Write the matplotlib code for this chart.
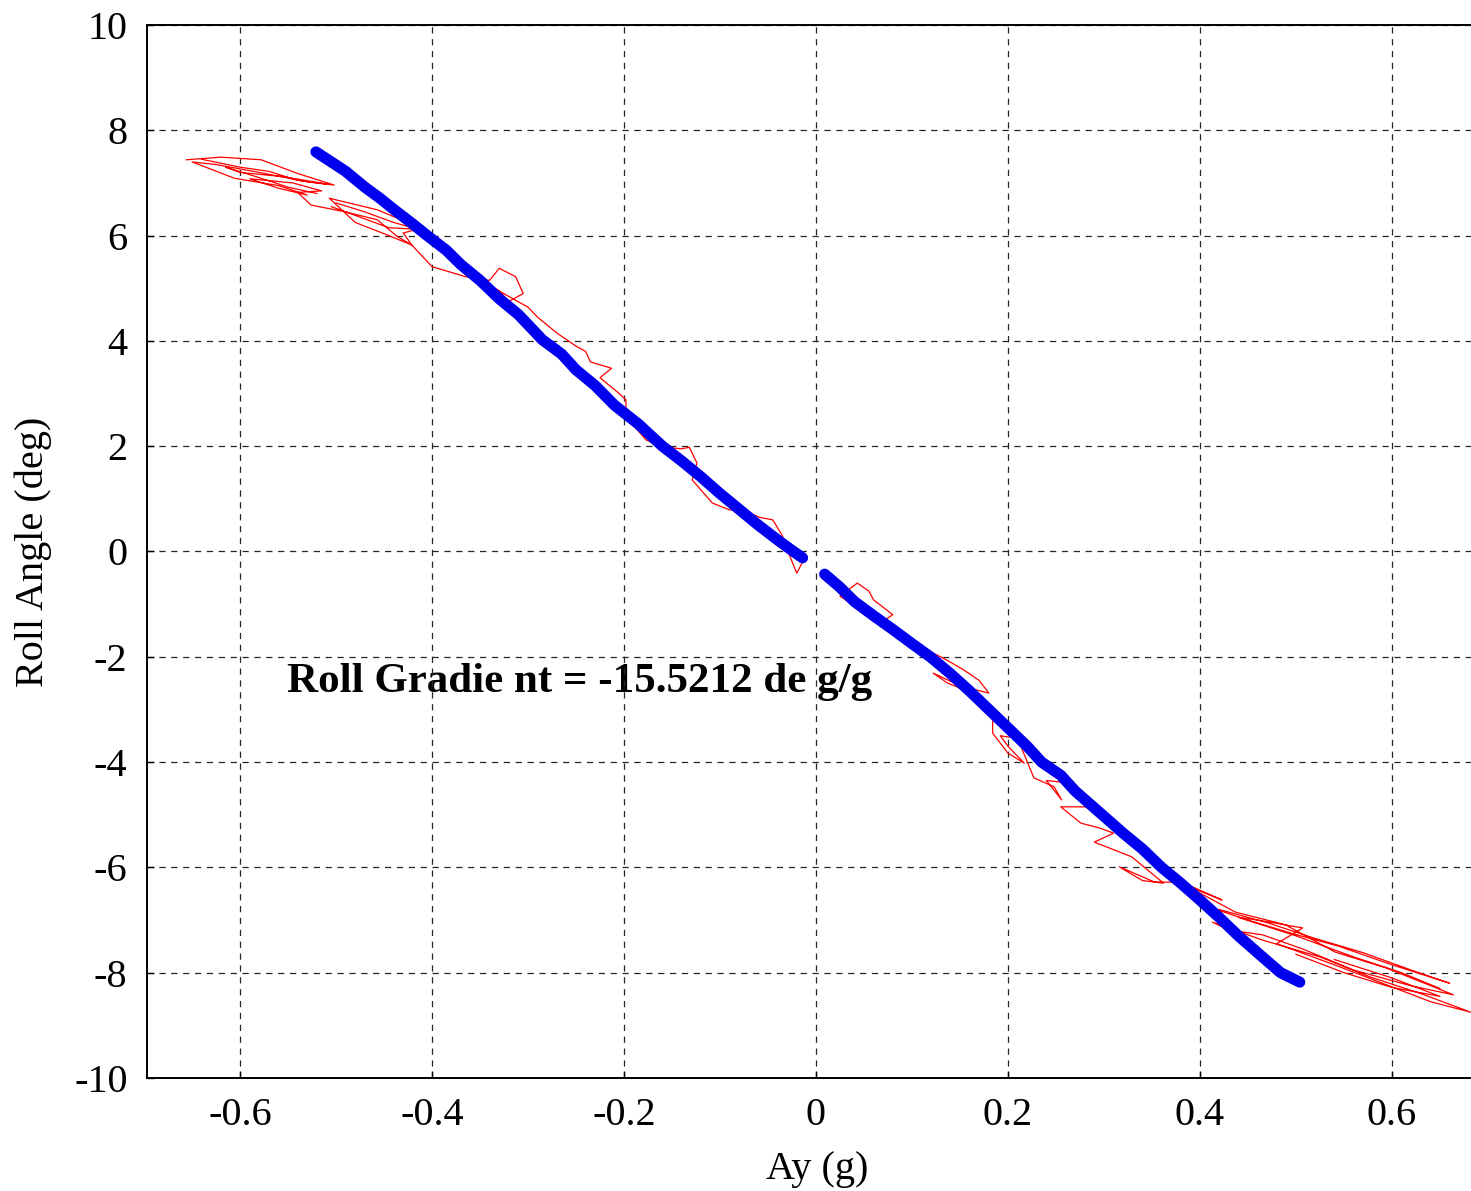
import numpy as np
import matplotlib
matplotlib.use("Agg")
import matplotlib.pyplot as plt

plt.rcParams['font.family'] = ['Liberation Serif', 'DejaVu Serif']
plt.rcParams['axes.unicode_minus'] = False

red_ay = [
    -0.656, -0.620, -0.578, -0.540, -0.502, -0.530, -0.580, -0.625, -0.650, -0.606,
    -0.560, -0.530, -0.560, -0.590, -0.545, -0.515, -0.540, -0.526, -0.490, -0.457,
    -0.436, -0.421, -0.445, -0.480, -0.507, -0.457, -0.411, -0.430, -0.421, -0.400,
    -0.365, -0.340, -0.330, -0.313, -0.305, -0.320, -0.330, -0.345, -0.300, -0.290,
    -0.270, -0.250, -0.240, -0.235, -0.213, -0.225, -0.205, -0.198, -0.198, -0.177,
    -0.162, -0.140, -0.132, -0.124, -0.129, -0.108, -0.090, -0.076, -0.059, -0.045,
    -0.035, -0.027, -0.020, -0.014, np.nan,
    -0.640, -0.600, -0.570, -0.540, -0.510, -0.555, -0.600, -0.615, -0.580, -0.550,
    -0.520, np.nan,
    -0.500, -0.470, -0.440, -0.415, -0.445, -0.475, -0.505, np.nan,
    0.017, 0.030, 0.036, 0.025, 0.043, 0.055, 0.060, 0.080, 0.067, 0.085,
    0.098, 0.116, 0.135, 0.154, 0.170, 0.180, 0.150, 0.122, 0.137, 0.165,
    0.184, 0.184, 0.200, 0.217, 0.200, 0.192, 0.210, 0.227, 0.248, 0.256,
    0.240, 0.265, 0.290, 0.255, 0.276, 0.295, 0.310, 0.290, 0.329, 0.362,
    0.340, 0.316, 0.353, 0.381, 0.423, 0.384, 0.437, 0.489, 0.541, 0.594,
    0.664, 0.620, 0.560, 0.507, 0.465, 0.430, 0.413, 0.465, 0.525, 0.577,
    0.629, 0.682, 0.640, 0.590, 0.540, 0.480, 0.507, 0.460, 0.440, 0.500,
    0.560, 0.610, 0.650, np.nan,
    0.420, 0.470, 0.520, 0.570, 0.620, 0.660, 0.600, 0.545, 0.495, 0.450,
    0.400, np.nan,
    0.540, 0.600, 0.650, 0.600, 0.550, 0.500,
]
red_roll = [
    7.44, 7.49, 7.44, 7.18, 6.96, 7.02, 7.20, 7.35, 7.40, 7.09,
    6.95, 6.77, 6.90, 7.08, 7.00, 6.85, 6.82, 6.58, 6.45, 6.30,
    5.98, 5.82, 6.00, 6.25, 6.71, 6.49, 6.14, 6.05, 5.82, 5.41,
    5.22, 5.15, 5.38, 5.22, 4.90, 4.75, 4.95, 5.10, 4.64, 4.45,
    4.15, 3.90, 3.80, 3.60, 3.48, 3.30, 3.00, 2.88, 2.56, 2.12,
    1.99, 1.95, 1.98, 1.68, 1.36, 0.92, 0.79, 0.79, 0.65, 0.60,
    0.30, -0.10, -0.41, -0.20, np.nan,
    7.45, 7.30, 7.22, 7.05, 6.98, 7.12, 7.20, 7.30, 7.10, 6.92,
    6.80, np.nan,
    6.62, 6.45, 6.25, 6.12, 6.15, 6.35, 6.55, np.nan,
    -0.60, -0.80, -0.98, -0.85, -0.60, -0.75, -0.92, -1.20, -1.36, -1.55,
    -1.81, -1.87, -2.05, -2.25, -2.45, -2.69, -2.55, -2.31, -2.50, -2.70,
    -3.05, -3.45, -3.83, -4.02, -3.70, -3.50, -3.55, -4.30, -4.47, -4.72,
    -4.35, -4.40, -4.85, -4.85, -5.16, -5.25, -5.35, -5.52, -5.80, -6.30,
    -6.25, -5.99, -6.28, -6.28, -6.62, -6.33, -6.85, -7.09, -7.61, -7.91,
    -8.42, -8.25, -7.95, -7.55, -7.28, -7.19, -7.04, -7.38, -7.70, -8.08,
    -8.39, -8.75, -8.55, -8.20, -7.85, -7.45, -7.15, -7.00, -6.95, -7.30,
    -7.70, -8.00, -8.30, np.nan,
    -6.80, -7.05, -7.35, -7.62, -7.95, -8.20, -7.85, -7.50, -7.25, -7.00,
    -6.70, np.nan,
    -7.75, -8.10, -8.45, -8.28, -8.00, -7.65,
]

# fitted values (blue), two branches
fit_ay = [-0.521, -0.505, -0.490, -0.470, -0.455, -0.440, -0.420, -0.405,
          -0.385, -0.370, -0.350, -0.330, -0.310, -0.285, -0.265, -0.250,
          -0.230, -0.210, -0.185, -0.160, -0.140, -0.120, -0.100, -0.080,
          -0.060, -0.040, -0.025, -0.014, np.nan,
          0.009, 0.025, 0.040, 0.060, 0.080, 0.100, 0.119, 0.140,
          0.160, 0.180, 0.200, 0.220, 0.235, 0.255, 0.270, 0.295,
          0.320, 0.340, 0.360, 0.380, 0.400, 0.420, 0.440, 0.460,
          0.484, 0.504]
fit_roll = [7.59, 7.40, 7.22, 6.92, 6.72, 6.50, 6.22, 6.00,
            5.72, 5.45, 5.15, 4.80, 4.50, 4.02, 3.75, 3.45,
            3.15, 2.78, 2.42, 2.00, 1.72, 1.42, 1.10, 0.80,
            0.50, 0.22, 0.02, -0.12, np.nan,
            -0.43, -0.68, -0.95, -1.22, -1.48, -1.75, -2.00, -2.32,
            -2.65, -3.00, -3.35, -3.70, -4.00, -4.25, -4.55, -4.95,
            -5.35, -5.65, -6.00, -6.30, -6.62, -6.95, -7.30, -7.62,
            -8.00, -8.18]

x_ticks = [-0.6, -0.4, -0.2, 0, 0.2, 0.4, 0.6]
x_labels = ['-0.6', '-0.4', '-0.2', '0', '0.2', '0.4', '0.6']
y_ticks = [-10, -8, -6, -4, -2, 0, 2, 4, 6, 8, 10]

fig = plt.figure(figsize=(14.71, 11.91), dpi=100)
# right edge of the box falls just outside the picture, as in the original
ax = fig.add_axes([0.0999, 0.0949, 0.9116, 0.8841])

ax.plot(red_ay, red_roll, color='red', lw=0.9, zorder=2)
ax.plot(fit_ay, fit_roll, color='#0000ee', lw=8, solid_capstyle='round',
        solid_joinstyle='round', zorder=3)

ax.set_xlim(-0.697, 0.7)
ax.set_ylim(-10, 10)
ax.set_xticks(x_ticks)
ax.set_xticklabels(x_labels)
ax.set_yticks(y_ticks)
ax.tick_params(direction='in', length=5, width=1, labelsize=29)
ax.tick_params(axis='x', pad=14)
ax.tick_params(axis='y', pad=14)
ax.grid(True, color='0.15', linestyle=(0, (5, 4.5)), linewidth=0.9)
for s in ax.spines.values():
    s.set_linewidth(1.4)

ax.set_xlabel('Ay (g)', fontsize=29, labelpad=12)
ax.set_ylabel('Roll Angle (deg)', fontsize=29, labelpad=16)

# text sits under the grid, as in the original
ax.text(-0.551, -2.48, 'Roll Gradie nt = -15.5212 de g/g', fontsize=31,
        fontweight='bold', ha='left', va='center', zorder=1)

fig.savefig('out.png', dpi=100)
